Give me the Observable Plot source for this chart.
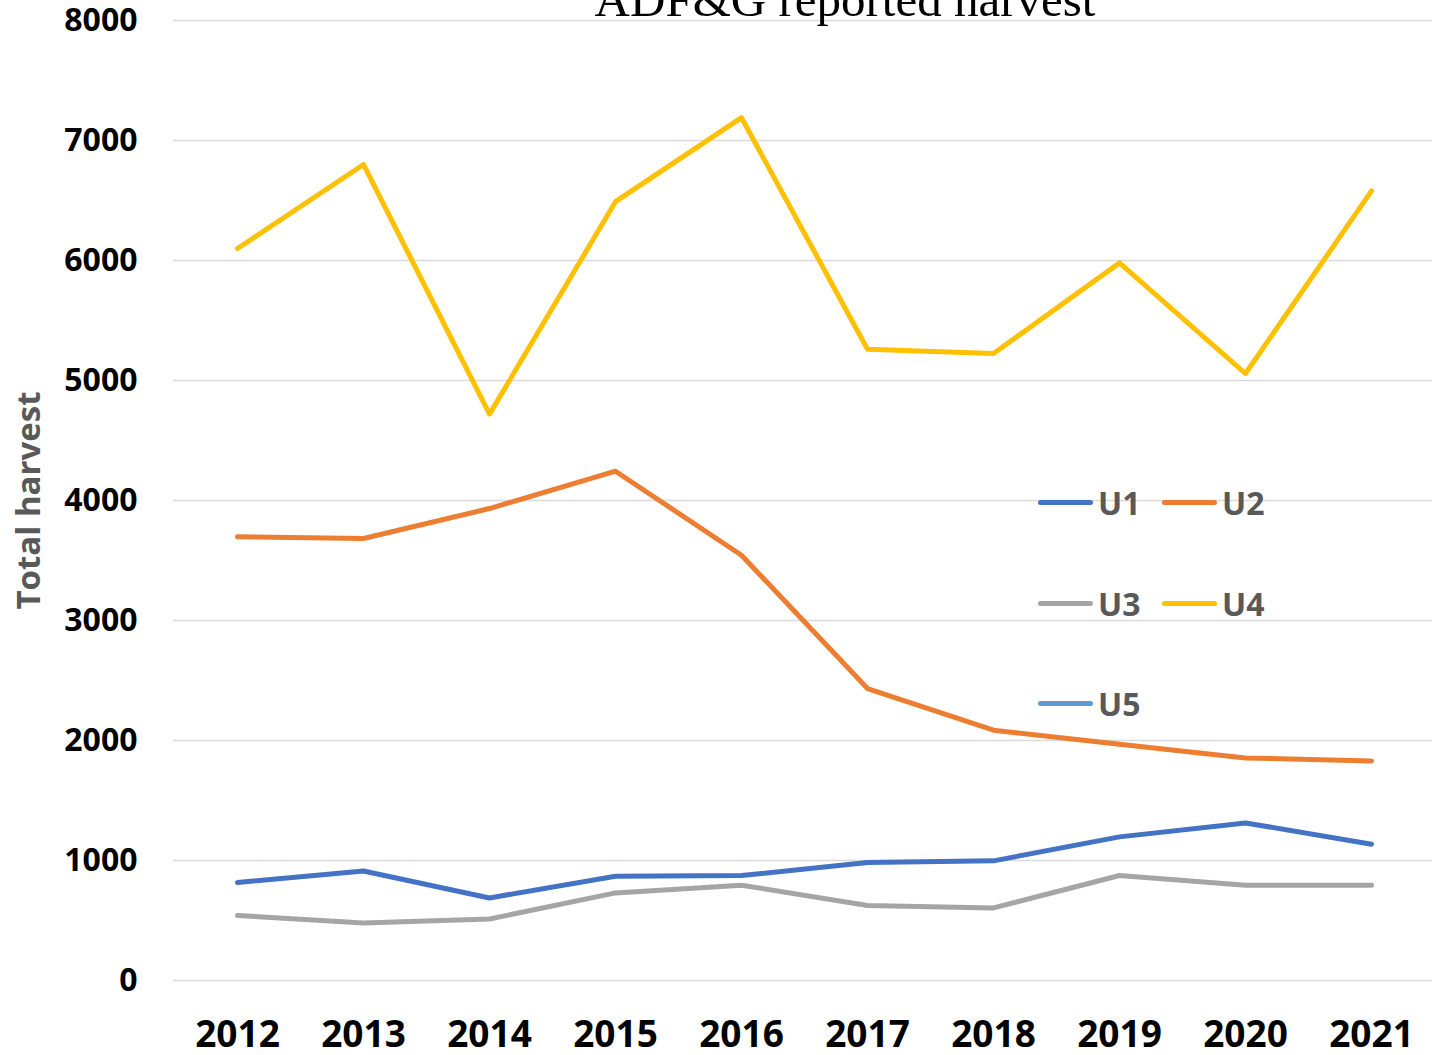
<!DOCTYPE html>
<html>
<head>
<meta charset="utf-8">
<script src="https://cdn.jsdelivr.net/npm/d3@7"></script>
<script src="https://cdn.jsdelivr.net/npm/@observablehq/plot@0.6"></script>
<style>
  html, body { margin: 0; padding: 0; background: #fff; }
  #wrap { position: relative; width: 1432px; height: 1055px; overflow: hidden; }
  #title { position: absolute; left: 845px; top: -25px; transform: translateX(-50%);
    font-family: "Liberation Serif", "DejaVu Serif", serif; font-size: 49px; line-height: 49px;
    color: #000; white-space: nowrap; }
  .leg { position: absolute; display: flex; align-items: center; height: 44px; transform: translateY(-50%);
    font-family: "Open Sans", sans-serif; font-weight: 700; font-size: 32px; color: #595959; }
  .leg .sw { width: 55px; height: 5px; border-radius: 3px; margin-right: 5px; }
</style>
</head>
<body>
<div id="wrap">
  <div id="chart"></div>
  <div id="legend"></div>
  <div id="title">ADF&amp;G reported harvest</div>
</div>
<script>
const years = ["2012","2013","2014","2015","2016","2017","2018","2019","2020","2021"];
const u1 = [817, 913, 688, 869, 875, 983, 997, 1197, 1313, 1136];
const u2 = [3697, 3683, 3933, 4244, 3544, 2433, 2086, 1969, 1855, 1830];
const u3 = [542, 480, 513, 730, 794, 625, 605, 875, 794, 794];
const u4 = [6100, 6800, 4720, 6490, 7190, 5260, 5225, 5980, 5058, 6580];
const u5 = []; // listed in legend, no visible line
const seriesNames = ["U1", "U2", "U3", "U4", "U5"];
const seriesColors = ["#4472C4", "#ED7D31", "#A5A5A5", "#FFC000", "#5B9BD5"];
const yTicks = [0, 1000, 2000, 3000, 4000, 5000, 6000, 7000, 8000];

const seriesValues = [u1, u2, u3, u4, u5];
const rows = [];
seriesNames.forEach((name, i) => {
  seriesValues[i].forEach((v, j) => rows.push({series: name, year: years[j], value: v}));
});
const chart = Plot.plot({
  width: 1432,
  height: 1055,
  marginTop: 20,
  marginBottom: 75,
  marginLeft: 173,
  marginRight: -2,
  style: {fontFamily: "'Open Sans', sans-serif", background: "#fff"},
  x: {type: "point", domain: years, padding: 0.5},
  y: {domain: [0, 8000]},
  color: {domain: seriesNames, range: seriesColors},
  marks: [
    Plot.gridY(yTicks, {stroke: "#D9D9D9", strokeOpacity: 1, strokeWidth: 1.5}),
    Plot.axisY(yTicks, {tickSize: 0, tickPadding: 36, fontSize: 32, fontWeight: 700, fill: "#000",
      label: null, tickFormat: d => String(d)}),
    Plot.axisX(years, {tickSize: 0, tickPadding: 40, fontSize: 37, fontWeight: 700, fill: "#000", label: null}),
    Plot.line(rows, {x: "year", y: "value", z: "series", stroke: "series", strokeWidth: 5,
      strokeLinecap: "round", strokeLinejoin: "round"}),
    Plot.text(["Total harvest"], {frameAnchor: "left", dx: -144, rotate: -90, fontSize: 33,
      fontWeight: 700, fill: "#595959", textAnchor: "middle"})
  ]
});
document.getElementById("chart").appendChild(chart);

// Legend (inside the plot area, as in the reference)
const legendPos = [
  {left: 1038, top: 502}, {left: 1162, top: 502},
  {left: 1038, top: 603}, {left: 1162, top: 603},
  {left: 1038, top: 703}
];
const leg = document.getElementById("legend");
seriesNames.forEach((name, i) => {
  const d = document.createElement("div");
  d.className = "leg";
  d.style.left = legendPos[i].left + "px";
  d.style.top = legendPos[i].top + "px";
  const sw = document.createElement("span");
  sw.className = "sw";
  sw.style.background = seriesColors[i];
  const t = document.createElement("span");
  t.textContent = name;
  d.appendChild(sw); d.appendChild(t);
  leg.appendChild(d);
});
</script>
</body>
</html>
